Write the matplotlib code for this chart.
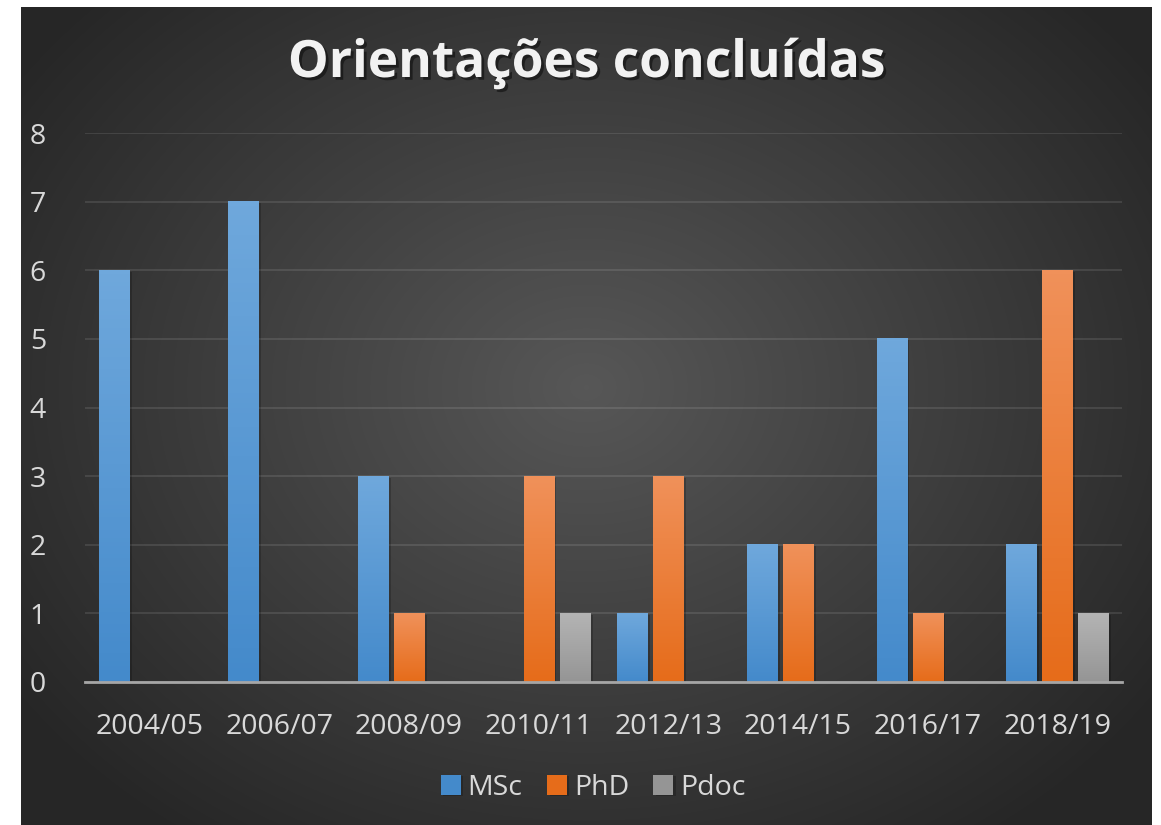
import numpy as np
import matplotlib.pyplot as plt
import matplotlib.patheffects as pe
from matplotlib.colors import LinearSegmentedColormap

# data
periods = ["2004/05", "2006/07", "2008/09", "2010/11", "2012/13", "2014/15", "2016/17", "2018/19"]
msc = [6, 7, 3, 0, 1, 2, 5, 2]
phd = [0, 0, 1, 3, 3, 2, 1, 6]
pdoc = [0, 0, 0, 1, 0, 0, 0, 1]

series = [("MSc", msc, "#6fa8dc", "#448acb"),
          ("PhD", phd, "#f0915a", "#e66c1a"),
          ("Pdoc", pdoc, "#b4b4b4", "#959595")]

plt.rcParams['font.family'] = ['Open Sans', 'DejaVu Sans']

fig = plt.figure(figsize=(11.61, 8.25), dpi=100)
fig.patch.set_facecolor("white")

# dark panel with a radial gradient
bg = fig.add_axes([21 / 1161, 0, 1131 / 1161, 818 / 825])
bg.set_axis_off()
yy, xx = np.mgrid[0:818, 0:1131]
r = np.sqrt(((xx - 565) / 700.0) ** 2 + ((yy - 380) / 560.0) ** 2)
r = np.clip(r, 0, 1)
bg.imshow(r, cmap=LinearSegmentedColormap.from_list("bg", ["#575757", "#262626"]),
          aspect="auto", extent=[0, 1, 0, 1], vmin=0, vmax=1)
bg.set_xlim(0, 1)
bg.set_ylim(0, 1)

ax = fig.add_axes([85 / 1161, (825 - 682) / 825, 1037 / 1161, 549 / 825])
ax.patch.set_alpha(0)

x = np.arange(len(periods))
width = 0.2315
step = 0.278

for i, (name, vals, top, bottom) in enumerate(series):
    bars = ax.bar(x + (i - 1) * step, vals, width, color=bottom, label=name, zorder=3,
                  path_effects=[pe.SimplePatchShadow(offset=(2, -1), shadow_rgbFace="black", alpha=0.2),
                                pe.Normal()])
    cmap = LinearSegmentedColormap.from_list(name, [bottom, top])
    grad = np.linspace(0, 1, 100).reshape(-1, 1)
    for b in bars:
        h = b.get_height()
        if h <= 0:
            continue
        x0 = b.get_x()
        ax.imshow(grad, cmap=cmap, origin="lower", aspect="auto",
                  extent=[x0, x0 + b.get_width(), 0, h], zorder=4)

ax.set_xlim(-0.5, len(periods) - 0.5)
ax.set_ylim(0, 8)
ax.set_yticks(range(0, 9))
ax.set_xticks(x)
ax.set_xticklabels(periods)
ax.grid(axis="y", color="#ffffff", alpha=0.1, linewidth=1.5, zorder=0)
ax.set_axisbelow(True)
for s in ["top", "right", "left"]:
    ax.spines[s].set_visible(False)
ax.spines["bottom"].set_color("#a6a6a6")
ax.spines["bottom"].set_linewidth(2)
ax.spines["bottom"].set_zorder(5)
ax.tick_params(axis="both", length=0, colors="#d9d9d9", labelsize=20.5)
ax.tick_params(axis="y", pad=28)
ax.tick_params(axis="x", pad=22)

leg = ax.legend(loc="center", bbox_to_anchor=(0.49, -0.193), ncol=3, frameon=False,
                fontsize=20.5, handlelength=0.7, handleheight=0.7, handletextpad=0.25,
                columnspacing=0.85, labelcolor="#d9d9d9")

fig.text(0.505, 1 - 64 / 825, "Orientações concluídas", ha="center", va="center",
         fontsize=37, fontweight="bold", color="#f2f2f2",
         path_effects=[pe.withSimplePatchShadow(offset=(2, -2), shadow_rgbFace="black", alpha=0.45)])

fig.savefig("out.png", dpi=100, facecolor=fig.get_facecolor())
